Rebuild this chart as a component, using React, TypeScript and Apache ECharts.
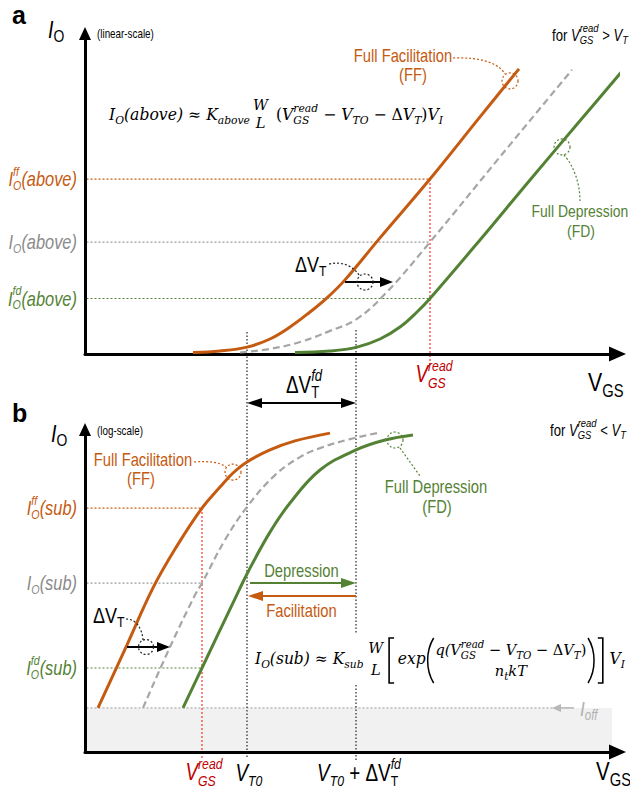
import React, { useEffect, useRef } from "react";
import * as echarts from "echarts";

// ---------- data (abstract units: x = V_GS, y = I_O) ----------
const X_MAX = 106.5;
const YA_MAX = 106.8;
const YB_MAX = 107.5;

// panel a (linear scale)
const ffAboveX = [21.6, 27, 32.4, 37, 41, 45, 48.4, 52, 59, 69, 79, 86.8];
const ffAboveY = [0.5, 1, 2.3, 5, 9, 14, 18.7, 24.7, 38.7, 58.3, 79, 95];
const ntAboveX = [31, 37, 43, 49, 54.4, 60.4, 69, 83, 97.4];
const ntAboveY = [0.5, 1.7, 4, 7.7, 11.7, 20.7, 37.3, 65.7, 94.7];
const fdAboveX = [42, 49, 54.4, 59, 63, 66.4, 69, 79, 89, 99, 107.8];
const fdAboveY = [0.5, 1, 2.3, 5, 9, 14, 18.5, 38, 58, 77.7, 95];

// panel b (log scale)
const ffSubX = [2.6, 8.4, 13.6, 18.4, 23.4, 27, 29.6, 32.4, 37, 42, 49];
const ffSubY = [14.7, 35.7, 54.7, 68.7, 81.3, 88.3, 93, 96.7, 100.7, 103.7, 106.3];
const ntSubX = [11.6, 17, 22, 23.4, 28, 32.4, 38, 43, 47, 53, 58.4];
const ntSubY = [14.7, 35, 52.3, 56.3, 70.7, 81.7, 92.3, 98.3, 101.3, 104.3, 106.3];
const fdSubX = [19.6, 23.4, 29.6, 32.6, 37, 41, 47, 54.2, 60, 65.6];
const fdSubY = [14.7, 28, 49.7, 60, 73.3, 83, 94, 100.7, 104, 105.7];

// reference values
const V_READ_A = 69;
const I_LEVELS_A = [58.3, 37.3, 18.5]; // FF, nominal, FD
const V_READ_B = 23.4;
const I_LEVELS_B = [81.3, 56.3, 28]; // FF, nominal, FD
const I_OFF = 14.7;
const OFF_X_END = 105.4;
const IOFF_LINE_END = 93.5;
const V_T0 = 32.4;
const DELTA_VT_FD = 21.8;
// ΔV_T shift annotations [y, xFrom, xTo, xCircle]
const SHIFT_A = [24, 52, 61.6, 56];
const SHIFT_B = [35, 8.4, 17, 12.2];
// markers on the curves [x, y]
const FF_MARK_A = [85, 91];
const FD_MARK_A = [95.4, 69];
const FF_MARK_B = [29.6, 93.3];
const FD_MARK_B = [62, 104];

// ---------- styles ----------
const ORANGE = "#c55a11";
const GREEN = "#548235";
const GREY = "#a6a6a6";
const GREY_TXT = "#8a8a8a";
const RED = "#c00000";
const RED_LINE = "#ff3030";
const SANS = "'Liberation Sans',Arial,sans-serif";
const ARIAL = "'Liberation Sans',Arial,sans-serif";
const SERIF = "'DejaVu Serif','Liberation Serif',serif";
const NARROW = 0.82;

type Seg = { t: string; s: number; it?: boolean; b?: boolean; dy?: number; c?: string; f?: string; pair?: Seg; dx?: number; ctr?: boolean };

let _ctx: CanvasRenderingContext2D | null = null;
function measure(t: string, font: string) {
  if (!_ctx) _ctx = document.createElement("canvas").getContext("2d");
  _ctx!.font = font;
  return _ctx!.measureText(t).width;
}
function fontOf(g: Seg, fam: string) {
  return `${g.it ? "italic " : ""}${g.b ? "bold " : ""}${g.s}px ${g.f || fam}`;
}
function lay(segs: Seg[], fam: string, k: number) {
  const items: any[] = [];
  let cx = 0;
  for (const sg of segs) {
    cx += (sg.dx || 0) * k;
    const grp = sg.pair ? [sg, sg.pair] : [sg];
    const ws = grp.map((g) => measure(g.t, fontOf(g, fam)) * k);
    const w = Math.max(...ws);
    grp.forEach((g, i) => items.push({ g, f: fontOf(g, fam), x: cx + (sg.ctr ? (w - ws[i]) / 2 : 0) }));
    cx += w;
  }
  return { items, w: cx };
}
function txt(x: number, base: number, segs: Seg[], color: string, align = "left", fam = SANS, sx?: number) {
  const k = sx !== undefined ? sx : fam === SANS ? NARROW : 1;
  const { items, w } = lay(segs, fam, k);
  const off = align === "center" ? -w / 2 : align === "right" ? -w : 0;
  return items.map(({ g, f, x: ix }) => ({
    type: "text",
    silent: true,
    z: 20,
    x: x + off + ix,
    y: base + (g.dy || 0) - 0.35 * g.s,
    scaleX: k,
    style: { text: g.t, font: f, fill: g.c || color, textAlign: "left", textVerticalAlign: "middle" },
  }));
}

function buildGraphics(P: (g: number, x: number, y: number) => number[]) {
  const els: any[] = [];
  const L = (x1: number, y1: number, x2: number, y2: number, stroke: string, lineWidth = 1.2, dash: any = [2, 2], z = 2) =>
    els.push({ type: "line", silent: true, z, shape: { x1, y1, x2, y2 }, style: { stroke, lineWidth, lineDash: dash } });
  const C = (c: number[], r: number, stroke: string) =>
    els.push({ type: "circle", silent: true, z: 6, shape: { cx: c[0], cy: c[1], r }, style: { fill: "none", stroke, lineWidth: 1.2, lineDash: [2, 2] } });
  const B = (x1: number, y1: number, cpx1: number, cpy1: number, cpx2: number, cpy2: number, x2: number, y2: number, stroke: string, dash: any = [2, 2], lw = 1.2) =>
    els.push({ type: "bezierCurve", silent: true, z: 6, shape: { x1, y1, cpx1, cpy1, cpx2, cpy2, x2, y2 }, style: { fill: "none", stroke, lineWidth: lw, lineDash: dash } });
  const H = (tx: number, ty: number, dir: number, len: number, hw: number, fill: string) =>
    els.push({ type: "polygon", silent: true, z: 7, shape: { points: [[tx, ty], [tx - dir * len, ty - hw], [tx - dir * len, ty + hw]] }, style: { fill } });
  const T = (arr: any[]) => els.push(...arr);
  const levelColors = [ORANGE, "#9a9a9a", GREEN];

  // ---- reference levels panel a ----
  I_LEVELS_A.forEach((lv, i) => {
    const a = P(0, 0, lv), b = P(0, V_READ_A, lv);
    L(a[0] + 1.5, a[1], b[0], b[1], levelColors[i]);
  });
  {
    const a = P(0, V_READ_A, I_LEVELS_A[0]), b = P(0, V_READ_A, -4.3);
    L(a[0], a[1], b[0], b[1], RED_LINE);
  }
  // ---- reference levels panel b ----
  I_LEVELS_B.forEach((lv, i) => {
    const a = P(1, 0, lv), b = P(1, V_READ_B, lv);
    L(a[0] + 1.5, a[1], b[0], b[1], levelColors[i]);
  });
  {
    const a = P(1, V_READ_B, I_LEVELS_B[0]), b = P(1, V_READ_B, -2.7);
    L(a[0], a[1], b[0], b[1], RED_LINE);
  }
  {
    const a = P(1, 0, I_OFF), b = P(1, IOFF_LINE_END, I_OFF);
    L(a[0] + 1.5, a[1], b[0], b[1], "#b0b0b0");
    H(552, a[1], -1, 9, 4, "#b8b8b8");
    L(560, a[1], 574, a[1], "#b8b8b8", 1.6, null);
    T(txt(580, a[1] + 8, [{ t: "I", s: 21, it: true }, { t: "off", s: 14, it: true, dy: 4 }], "#b0b0b0"));
  }

  // ---- threshold verticals spanning both panels ----
  const V_T1 = V_T0 + DELTA_VT_FD;
  {
    const a = P(0, V_T0, 7.3), b = P(1, V_T0, -1.7);
    L(a[0], a[1], b[0], b[1], "#222", 1.2, [1.5, 2]);
    const c = P(0, V_T1, 8), d = P(1, V_T1, -2.7);
    L(c[0], c[1], c[0], 633, "#222", 1.2, [1.5, 2]);
    L(d[0], 685, d[0], d[1], "#222", 1.2, [1.5, 2]);
    // ΔV_T^fd double arrow
    const x0 = a[0], x1 = c[0];
    L(x0 + 12, 403, x1 - 12, 403, "#000", 1.8, null, 6);
    H(x0, 403, -1, 15, 5, "#000");
    H(x1, 403, 1, 15, 5, "#000");
    T(txt(286, 393, [{ t: "ΔV", s: 23 }, { t: "fd", s: 16, it: true, dy: -12, pair: { t: "T", s: 16, dy: 5 } }], "#000"));
    // Depression / Facilitation arrows
    L(x0 + 3, 583, x1 - 12, 583, GREEN, 2, null, 6);
    H(x1, 583, 1, 15, 5, GREEN);
    L(x0 + 12, 596, x1, 596, ORANGE, 2, null, 6);
    H(x0 + 1, 596, -1, 15, 5, ORANGE);
    T(txt((x0 + x1) / 2, 577, [{ t: "Depression", s: 18 }], GREEN, "center"));
    T(txt((x0 + x1) / 2, 617, [{ t: "Facilitation", s: 18 }], ORANGE, "center"));
  }

  // ---- ΔV_T shift arrows ----
  {
    const a = P(0, SHIFT_A[1], SHIFT_A[0]), b = P(0, SHIFT_A[2], SHIFT_A[0]);
    L(a[0], a[1], b[0] - 10, b[1], "#000", 1.8, null, 6);
    H(b[0], b[1], 1, 13, 5, "#000");
    C(P(0, SHIFT_A[3], SHIFT_A[0]), 8, "#222");
    B(329, 264, 342, 261, 353, 266, 359, 275, "#222");
    T(txt(295, 272, [{ t: "ΔV", s: 22 }, { t: "T", s: 15, dy: 4 }], "#000"));
  }
  {
    const a = P(1, SHIFT_B[1], SHIFT_B[0]), b = P(1, SHIFT_B[2], SHIFT_B[0]);
    L(a[0], a[1], b[0] - 10, b[1], "#000", 1.8, null, 6);
    H(b[0], b[1], 1, 13, 5, "#000");
    C(P(1, SHIFT_B[3], SHIFT_B[0]), 7.5, "#222");
    B(126, 619, 136, 619, 142, 628, 143, 640, "#222");
    T(txt(93, 623, [{ t: "ΔV", s: 22 }, { t: "T", s: 15, dy: 4 }], "#000"));
  }

  // ---- FF / FD markers ----
  C(P(0, FF_MARK_A[0], FF_MARK_A[1]), 8, ORANGE);
  B(453, 58, 478, 57, 498, 62, 505, 74, ORANGE);
  C(P(0, FD_MARK_A[0], FD_MARK_A[1]), 8, GREEN);
  B(564, 155, 573, 165, 580, 182, 580, 201, GREEN);
  C(P(1, FF_MARK_B[0], FF_MARK_B[1]), 8, ORANGE);
  B(194, 462, 208, 461, 220, 462, 226, 467, ORANGE);
  C(P(1, FD_MARK_B[0], FD_MARK_B[1]), 8, GREEN);
  L(400, 448, 420, 476, GREEN, 1.2, [2, 2], 6);

  // ---- panel titles & axis titles ----
  T(txt(12, 24, [{ t: "a", s: 25, b: true, f: ARIAL }], "#000", "left", SANS, 1));
  T(txt(12, 422, [{ t: "b", s: 25, b: true, f: ARIAL }], "#000", "left", SANS, 1));
  T(txt(48, 38, [{ t: "I", s: 24, it: true }, { t: "O", s: 17, dy: 4 }], "#000"));
  T(txt(97, 38, [{ t: "(linear-scale)", s: 12 }], "#000"));
  T(txt(51, 442, [{ t: "I", s: 24, it: true }, { t: "O", s: 17, dy: 4 }], "#000"));
  T(txt(97, 435, [{ t: "(log-scale)", s: 12 }], "#000"));
  T(txt(588, 391, [{ t: "V", s: 26 }, { t: "GS", s: 18, dy: 6 }], "#000"));
  T(txt(596, 780, [{ t: "V", s: 25 }, { t: "GS", s: 18, dy: 6 }], "#000"));

  // ---- conditions ----
  const cond = (op: string): Seg[] => [
    { t: "for ", s: 16 },
    { t: "V", s: 16, it: true },
    { t: "read", s: 11.5, it: true, dy: -9, pair: { t: "GS", s: 11.5, it: true, dy: 3 } },
    { t: ` ${op} `, s: 16 },
    { t: "V", s: 16, it: true },
    { t: "T", s: 11.5, it: true, dy: 3 },
  ];
  T(txt(552, 41, cond(">"), "#000"));
  T(txt(550, 436, cond("<"), "#000"));

  // ---- FF / FD labels ----
  T(txt(403, 62, [{ t: "Full Facilitation", s: 18 }], ORANGE, "center"));
  T(txt(413, 81, [{ t: "(FF)", s: 18 }], ORANGE, "center"));
  T(txt(580, 217, [{ t: "Full Depression", s: 17 }], GREEN, "center"));
  T(txt(581, 237, [{ t: "(FD)", s: 17 }], GREEN, "center"));
  T(txt(143, 466, [{ t: "Full Facilitation", s: 18 }], ORANGE, "center"));
  T(txt(141, 485, [{ t: "(FF)", s: 18 }], ORANGE, "center"));
  T(txt(436, 493, [{ t: "Full Depression", s: 18 }], GREEN, "center"));
  T(txt(437, 513, [{ t: "(FD)", s: 18 }], GREEN, "center"));

  // ---- level labels ----
  const lvlLabel = (y: number, sup: string, tail: string, color: string) => {
    const mid: Seg = sup
      ? { t: sup, s: 13, it: true, dy: -10, pair: { t: "O", s: 13, it: true, dy: 4 } }
      : { t: "O", s: 13, it: true, dy: 4 };
    T(txt(77, y + 7, [{ t: "I", s: 20, it: true }, mid, { t: tail, s: 20, it: true }], color, "right"));
  };
  const ya = I_LEVELS_A.map((lv) => P(0, 0, lv)[1]);
  lvlLabel(ya[0], "ff", "(above)", ORANGE);
  lvlLabel(ya[1], "", "(above)", GREY_TXT);
  lvlLabel(ya[2], "fd", "(above)", GREEN);
  const yb = I_LEVELS_B.map((lv) => P(1, 0, lv)[1]);
  lvlLabel(yb[0], "ff", "(sub)", ORANGE);
  lvlLabel(yb[1], "", "(sub)", GREY_TXT);
  lvlLabel(yb[2], "fd", "(sub)", GREEN);

  // ---- x-axis annotations ----
  const readSeg = (s: number): Seg[] => [{ t: "V", s, it: true }, { t: "read", s: 15, it: true, dy: -11, pair: { t: "GS", s: 15, it: true, dy: 6 } }];
  T(txt(P(0, V_READ_A, 0)[0] + 4, 382, readSeg(23), RED, "center"));
  T(txt(P(1, V_READ_B, 0)[0] + 2, 780, readSeg(23), RED, "center"));
  T(txt(P(1, V_T0, 0)[0] + 2, 781, [{ t: "V", s: 23, it: true }, { t: "T0", s: 15, it: true, dy: 5 }], "#000", "center"));
  T(txt(P(1, V_T1, 0)[0] + 3, 781, [{ t: "V", s: 23, it: true }, { t: "T0", s: 15, it: true, dy: 5 }, { t: " + ", s: 23 }, { t: "ΔV", s: 23 }, { t: "fd", s: 15, it: true, dy: -12, pair: { t: "T", s: 15, dy: 5 } }], "#000", "center"));

  // ---- formula a ----
  const F = 16, S = 11;
  const fa: Seg[] = [
    { t: "I", s: F, it: true }, { t: "O", s: S, it: true, dy: 4 }, { t: "(above) ≈ ", s: F, it: true },
    { t: "K", s: F, it: true }, { t: "above", s: S, it: true, dy: 4 },
    { t: "W", s: 15, it: true, dy: -10, ctr: true, dx: 3, pair: { t: "L", s: 15, it: true, dy: 8 } },
    { t: " (", s: F, dx: 3 }, { t: "V", s: F, it: true },
    { t: "read", s: S, it: true, dy: -8, pair: { t: "GS", s: S, it: true, dy: 4 } },
    { t: " − ", s: F }, { t: "V", s: F, it: true }, { t: "TO", s: S, it: true, dy: 4 },
    { t: " − Δ", s: F }, { t: "V", s: F, it: true }, { t: "T", s: S, it: true, dy: 4 },
    { t: ")", s: F }, { t: "V", s: F, it: true }, { t: "I", s: S, it: true, dy: 4 },
  ];
  const kA = 334 / lay(fa, SERIF, 1).w;
  T(txt(109, 120, fa, "#000", "left", SERIF, kA));

  // ---- formula b ----
  const p1: Seg[] = [
    { t: "I", s: F, it: true }, { t: "O", s: S, it: true, dy: 4 }, { t: "(sub) ≈ ", s: F, it: true },
    { t: "K", s: F, it: true }, { t: "sub", s: S, it: true, dy: 4 },
  ];
  const wl: Seg[] = [{ t: "W", s: 15, it: true, dy: -11, ctr: true, pair: { t: "L", s: 15, it: true, dy: 11 } }];
  const ex: Seg[] = [{ t: "exp", s: F, it: true }];
  const num: Seg[] = [
    { t: "q(", s: 15, it: true }, { t: "V", s: 15, it: true },
    { t: "read", s: 10.5, it: true, dy: -7, pair: { t: "GS", s: 10.5, it: true, dy: 4 } },
    { t: " − ", s: 15 }, { t: "V", s: 15, it: true }, { t: "TO", s: 10.5, it: true, dy: 4 },
    { t: " − Δ", s: 15 }, { t: "V", s: 15, it: true }, { t: "T", s: 10.5, it: true, dy: 4 }, { t: ")", s: 15 },
  ];
  const den: Seg[] = [{ t: "n", s: 15, it: true }, { t: "t", s: 10.5, it: true, dy: 4 }, { t: "kT", s: 15, it: true }];
  const vI: Seg[] = [{ t: "V", s: F, it: true }, { t: "I", s: S, it: true, dy: 4 }];
  const w1 = lay(p1, SERIF, 1).w, wW = lay(wl, SERIF, 1).w, wE = lay(ex, SERIF, 1).w;
  const wN = lay(num, SERIF, 1).w, wD = lay(den, SERIF, 1).w, wV = lay(vI, SERIF, 1).w;
  const BR = 6, PA = 7;
  const xWl = w1 + 5;
  const xBr1 = xWl + wW + 6;
  const xExp = xBr1 + BR + 3;
  const xPa1 = xExp + wE + 1;
  const xFr = xPa1 + PA + 2;
  const frW = Math.max(wN, wD);
  const xPa2 = xFr + frW + 2;
  const xBr2 = xPa2 + PA + 2;
  const xV = xBr2 + BR + 7;
  const kB = 370 / (xV + wV);
  const X = (p: number) => 255 + p * kB;
  T(txt(X(0), 664, p1, "#000", "left", SERIF, kB));
  T(txt(X(xWl), 664, wl, "#000", "left", SERIF, kB));
  T(txt(X(xExp), 664, ex, "#000", "left", SERIF, kB));
  T(txt(X(xFr + frW / 2), 655, num, "#000", "center", SERIF, kB));
  T(txt(X(xFr + frW / 2), 676, den, "#000", "center", SERIF, kB));
  T(txt(X(xV), 664, vI, "#000", "left", SERIF, kB));
  const b1 = X(xBr1), b2 = X(xBr2 + BR);
  els.push({ type: "polyline", silent: true, z: 20, shape: { points: [[b1 + 5, 638], [b1, 638], [b1, 683], [b1 + 5, 683]] }, style: { fill: "none", stroke: "#000", lineWidth: 1.6 } });
  els.push({ type: "polyline", silent: true, z: 20, shape: { points: [[b2 - 5, 638], [b2, 638], [b2, 683], [b2 - 5, 683]] }, style: { fill: "none", stroke: "#000", lineWidth: 1.6 } });
  const q1 = X(xPa1), q2 = X(xPa2 + PA);
  B(q1 + 7, 638, q1 - 1, 651, q1 - 1, 670, q1 + 7, 683, "#000", null, 1.5);
  B(q2 - 7, 638, q2 + 1, 651, q2 + 1, 670, q2 - 7, 683, "#000", null, 1.5);

  return els;
}

export default function App() {
  const ref = useRef<HTMLDivElement>(null);
  useEffect(() => {
    const chart = echarts.init(ref.current!, null, { renderer: "svg" });
    const pairs = (xs: number[], ys: number[]) => xs.map((x, i) => [x, ys[i]]);
    const curve = (name: string, xs: number[], ys: number[], g: number, color: string, dashed: boolean) => ({
      type: "line",
      name,
      xAxisIndex: g,
      yAxisIndex: g,
      data: pairs(xs, ys),
      smooth: 0.4,
      showSymbol: false,
      symbol: "none",
      clip: false,
      silent: true,
      z: 4,
      lineStyle: { color, width: dashed ? 2.2 : 3, type: dashed ? [7, 4] : "solid" },
    });
    const axisLine = (sz: number[]) => ({
      show: true,
      onZero: false,
      symbol: ["none", "triangle"],
      symbolSize: sz,
      lineStyle: { color: "#000", width: 3 },
    });
    const common = { axisTick: { show: false }, axisLabel: { show: false }, splitLine: { show: false }, z: 3 };
    chart.setOption({
      animation: false,
      grid: [
        { left: 85, top: 33.5, width: 532.5, height: 320.5 },
        { left: 85, top: 429.5, width: 532.5, height: 322.5 },
      ],
      xAxis: [0, 1].map((g) => ({ type: "value", gridIndex: g, min: 0, max: X_MAX, axisLine: axisLine([15, 17]), ...common })),
      yAxis: [YA_MAX, YB_MAX].map((m, g) => ({ type: "value", gridIndex: g, min: 0, max: m, axisLine: axisLine([12, 13]), ...common })),
      series: [
        {
          type: "line",
          xAxisIndex: 1,
          yAxisIndex: 1,
          data: [],
          z: 1,
          silent: true,
          markArea: { silent: true, itemStyle: { color: "#f1f1f1" }, data: [[{ coord: [0, 0] }, { coord: [OFF_X_END, I_OFF] }]] },
        },
        curve("FF above", ffAboveX, ffAboveY, 0, ORANGE, false),
        curve("nominal above", ntAboveX, ntAboveY, 0, GREY, true),
        curve("FD above", fdAboveX, fdAboveY, 0, GREEN, false),
        curve("FF sub", ffSubX, ffSubY, 1, ORANGE, false),
        curve("nominal sub", ntSubX, ntSubY, 1, GREY, true),
        curve("FD sub", fdSubX, fdSubY, 1, GREEN, false),
      ],
    });
    const P = (g: number, x: number, y: number) => chart.convertToPixel({ gridIndex: g } as any, [x, y]) as number[];
    chart.setOption({ graphic: { elements: buildGraphics(P) } });
    return () => chart.dispose();
  }, []);
  return <div ref={ref} style={{ position: "fixed", left: 0, top: 0, width: 630, height: 794, background: "#fff" }} />;
}
